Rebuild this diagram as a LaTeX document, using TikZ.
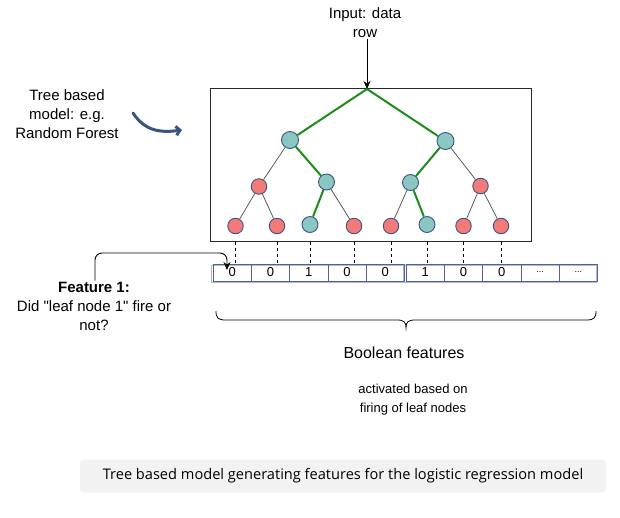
\documentclass[tikz,border=0pt]{standalone}
\usepackage{fontspec}
\setmainfont{Liberation Sans}[Ligatures=TeXOff]
\newfontfamily\capfont{Open Sans}
\usetikzlibrary{arrows.meta}
\definecolor{tealc}{RGB}{138,198,194}
\definecolor{redc}{RGB}{244,122,122}
\definecolor{nborder}{RGB}{60,85,130}
\definecolor{greenc}{RGB}{28,140,28}
\definecolor{greyedge}{RGB}{90,90,90}
\definecolor{cellc}{RGB}{80,100,145}
\definecolor{curvec}{RGB}{58,84,128}
\definecolor{capbg}{RGB}{242,242,242}
\definecolor{boxc}{RGB}{40,40,40}
\tikzset{
  tnode/.style={circle, draw=nborder, line width=0.9pt, minimum size=16pt, inner sep=0pt},
  tealnode/.style={tnode, fill=tealc},
  rednode/.style={tnode, fill=redc, minimum size=15.5pt},
  bignode/.style={tealnode, minimum size=17pt},
  greyline/.style={draw=greyedge, line width=0.8pt},
  greenline/.style={draw=greenc, line width=2pt},
  cell/.style={draw=cellc, line width=0.8pt, minimum width=38.3pt, minimum height=17pt, inner sep=0pt, font=\fontsize{13}{15}\selectfont},
  lbl/.style={align=center, inner sep=1pt, font=\fontsize{15}{19}\selectfont},
  arr/.style={line width=0.9pt, -{Stealth[length=8pt,width=7pt]}},
}
\begin{document}
\begin{tikzpicture}[x=1pt,y=-1pt]
\useasboundingbox (0,0) rectangle (620,517);

% input
\node[lbl] (inp) at (365,22.5) {Input: data\\row};
\node[draw=boxc, line width=0.9pt, minimum width=321pt, minimum height=153pt, inner sep=0pt, anchor=north west] (box) at (210,88) {};
\coordinate (root) at (367,89);
\draw[arr] (root |- inp.south) -- (root);

% tree nodes
\node[bignode] (n1) at (290,140) {};
\node[bignode] (n2) at (445.5,141) {};
\node[rednode] (m1) at (259,186.5) {};
\node[tealnode] (m2) at (326.5,182) {};
\node[tealnode] (m3) at (410.5,182.5) {};
\node[rednode] (m4) at (480.5,186) {};
\node[rednode] (l1) at (235.5,226) {};
\node[rednode] (l2) at (277,226) {};
\node[tealnode] (l3) at (310,224.5) {};
\node[rednode] (l4) at (354,226) {};
\node[rednode] (l5) at (391,226) {};
\node[tealnode] (l6) at (427,224.5) {};
\node[rednode] (l7) at (463.5,226) {};
\node[rednode] (l8) at (501,226) {};

% grey edges
\draw[greyline] (n1) -- (m1);
\draw[greyline] (m1) -- (l1);
\draw[greyline] (m1) -- (l2);
\draw[greyline] (m2) -- (l4);
\draw[greyline] (m3) -- (l5);
\draw[greyline] (n2) -- (m4);
\draw[greyline] (m4) -- (l7);
\draw[greyline] (m4) -- (l8);
% green edges
\draw[greenline] (root) -- (n1);
\draw[greenline] (root) -- (n2);
\draw[greenline] (n1) -- (m2);
\draw[greenline] (m2) -- (l3);
\draw[greenline] (n2) -- (m3);
\draw[greenline] (m3) -- (l6);

% cells
\draw[cellc!45, line width=0.7pt] (211.5,265) rectangle (403.5,282);
\draw[cellc!45, line width=0.7pt] (404.5,265) rectangle (596.5,282);
\foreach \i/\t in {1/0,2/0,3/1,4/0,5/0}
  \node[cell] (c\i) at ({213+38.3*(\i-0.5)},272.5) {\t};
\foreach \i/\t in {6/1,7/0,8/0}
  \node[cell] (c\i) at ({406+38.3*(\i-5.5)},272.5) {\t};
\foreach \i in {9,10}
  \node[cell, font=\fontsize{9}{11}\selectfont] (c\i) at ({406+38.3*(\i-5.5)},272.5) {...};

% dashed links
\foreach \k in {1,...,8}
  \draw[dashed, line width=0.8pt, dash pattern=on 3pt off 3pt] (l\k |- box.south) -- (l\k |- c1.north);

% left labels
\node[lbl] (tbm) at (67,114) {Tree based\\model: e.g.\\Random Forest};
\coordinate (ca) at (133,113);
\coordinate (cb) at (182,130);
\draw[curvec, line width=3pt, line cap=round, -{Straight Barb[length=4pt,width=9pt]}] (ca) .. controls (145,131) and (160,133) .. (cb);

\node[lbl, font=\fontsize{15}{19}\selectfont] (feat) at (94,306) {\textbf{Feature 1:}\\Did "leaf node 1" fire or\\not?};
\coordinate (ftip) at (227,270);
\draw[arr, rounded corners=7pt] (feat.north -| 95,0) |- (227,253) -- (ftip);

% brace
\draw[line width=0.8pt] (216,311) .. controls (216,318) and (218,320) .. (226,320) -- (397,320) .. controls (404,320) and (406,322) .. (406,328) .. controls (406,322) and (408,320) .. (415,320) -- (586,320) .. controls (594,320) and (596,318) .. (596,311);

\node[lbl, font=\fontsize{16}{19}\selectfont] (bool) at (404,353) {Boolean features};
\node[lbl, font=\fontsize{13}{19}\selectfont] (act) at (413,400) {activated based on\\firing of leaf nodes};

% caption
\node[fill=capbg, rounded corners=4pt, minimum width=526pt, minimum height=33pt, inner sep=0pt, font=\capfont\fontsize{14.6}{16}\selectfont] (cap) at (343,476) {Tree based model generating features for the logistic regression model};
\end{tikzpicture}
\end{document}
